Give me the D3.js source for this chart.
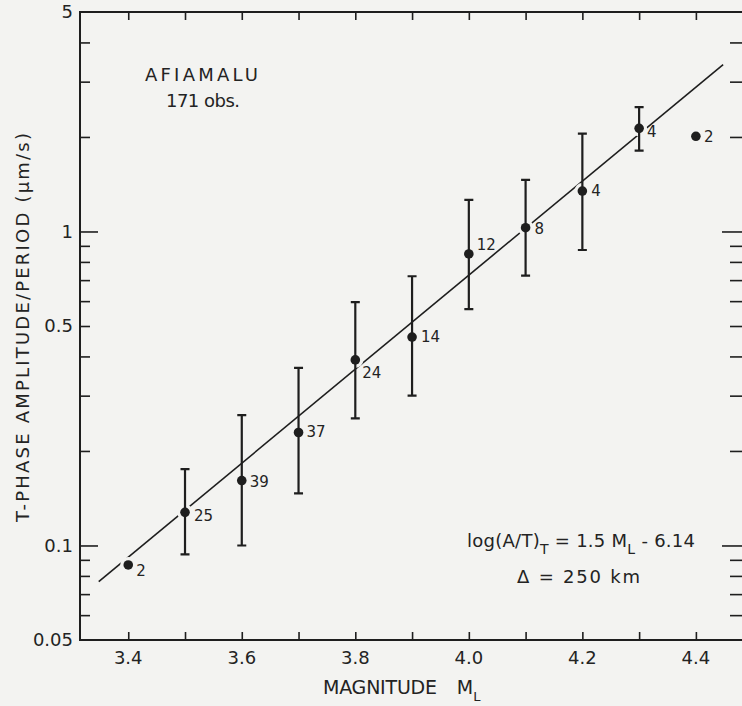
<!DOCTYPE html>
<html>
<head>
<meta charset="utf-8">
<script src="https://cdn.jsdelivr.net/npm/d3@7"></script>
<style>
  html, body { margin: 0; padding: 0; background: #f3f3f1; }
  svg { display: block; }
  text { font-family: "DejaVu Sans", sans-serif; fill: #232323; }
</style>
</head>
<body>
<svg id="chart" width="742" height="706"></svg>
<script>
// ---------- data ----------
const magnitudes = [3.4, 3.5, 3.6, 3.7, 3.8, 3.9, 4.0, 4.1, 4.2, 4.3, 4.4];
const amplitudes = [0.0867, 0.1275, 0.161, 0.229, 0.390, 0.461, 0.848, 1.028, 1.345, 2.13, 2.01];
const errLow     = [null, 0.0937, 0.100, 0.1466, 0.254, 0.300, 0.566, 0.723, 0.873, 1.81, null];
const errHigh    = [null, 0.175, 0.260, 0.368, 0.596, 0.720, 1.26, 1.46, 2.05, 2.49, null];
const counts     = [2, 25, 39, 37, 24, 14, 12, 8, 4, 4, 2];
const fitMag     = [3.348, 4.448];
const fitAmp     = [0.0767, 3.40];
const xTickValues = [3.4, 3.6, 3.8, 4.0, 4.2, 4.4];
const xTickLabels = ["3.4", "3.6", "3.8", "4.0", "4.2", "4.4"];
const xMinorTicks = [3.4, 3.5, 3.6, 3.7, 3.8, 3.9, 4.0, 4.1, 4.2, 4.3, 4.4];
const yTickValues = [5, 1, 0.5, 0.1, 0.05];
const yTickLabels = ["5", "1", "0.5", "0.1", "0.05"];
const yMinorTicks = [0.06, 0.07, 0.08, 0.09, 0.2, 0.3, 0.4, 0.5, 0.6, 0.7, 0.8, 0.9, 2, 3, 4];
const yMajorTicks = [0.1, 1];

// ---------- layout ----------
const labelOffsets = [[8, 11], [9, 9], [8, 6], [8, 5], [7, 18], [9, 5], [8, -4], [9, 6], [9, 5], [8, 9], [8, 6]];
const pLeft = 80, pRight = 743, pTop = 12, pBottom = 640;
const ink = "#1e1e1e", paper = "#f3f3f1";

const svg = d3.select("#chart");
svg.append("rect").attr("width", 742).attr("height", 706).attr("fill", paper);

const x = d3.scaleLinear().domain([3.315, 4.483]).range([pLeft, pRight]);
const y = d3.scaleLog().domain([0.05, 5]).range([pBottom, pTop]);

const pts = magnitudes.map((m, i) => ({
  m, v: amplitudes[i], lo: errLow[i], hi: errHigh[i], n: counts[i], off: labelOffsets[i]
}));

// frame
const g = svg.append("g");
g.append("path")
  .attr("d", `M${pRight},${pTop}H${pLeft}V${pBottom}H${pRight}`)
  .attr("fill", "none").attr("stroke", ink).attr("stroke-width", 2);

// axes (ticks drawn through d3 axes)
function styleAxis(sel) {
  sel.select(".domain").remove();
  sel.selectAll(".tick line").attr("stroke", ink).attr("stroke-width", 1.6);
  sel.selectAll(".tick text").remove();
}
g.append("g").attr("transform", `translate(0,${pBottom})`)
  .call(d3.axisTop(x).tickValues(xMinorTicks).tickSize(8)).call(styleAxis);
g.append("g").attr("transform", `translate(0,${pTop})`)
  .call(d3.axisBottom(x).tickValues(xMinorTicks).tickSize(8)).call(styleAxis);
g.append("g").attr("transform", `translate(${pLeft},0)`)
  .call(d3.axisRight(y).tickValues(yMinorTicks).tickSize(10)).call(styleAxis);
g.append("g").attr("transform", `translate(${pLeft},0)`)
  .call(d3.axisRight(y).tickValues(yMajorTicks).tickSize(18)).call(styleAxis);
g.append("g").attr("transform", `translate(${pRight - 1},0)`)
  .call(d3.axisLeft(y).tickValues(yMinorTicks).tickSize(12)).call(styleAxis);
g.append("g").attr("transform", `translate(${pRight - 1},0)`)
  .call(d3.axisLeft(y).tickValues(yMajorTicks).tickSize(20)).call(styleAxis);

// tick labels
g.selectAll(".xl").data(xTickValues).join("text")
  .attr("x", d => x(d)).attr("y", 664)
  .attr("text-anchor", "middle").attr("font-size", 18)
  .text((d, i) => xTickLabels[i]);
g.selectAll(".yl").data(yTickValues).join("text")
  .attr("x", 73).attr("y", d => y(d)).attr("dy", "0.36em")
  .attr("text-anchor", "end").attr("font-size", 18)
  .text((d, i) => yTickLabels[i]);

// fit line
const line = d3.line().x(d => x(d[0])).y(d => y(d[1]));
g.append("path").datum(fitMag.map((m, i) => [m, fitAmp[i]]))
  .attr("d", line).attr("fill", "none").attr("stroke", ink).attr("stroke-width", 1.6);

// halos (gaps in the line around the dots)
g.selectAll(".halo").data(pts).join("circle")
  .attr("cx", d => x(d.m)).attr("cy", d => y(d.v)).attr("r", 8).attr("fill", paper);

// error bars
const eb = pts.filter(d => d.lo != null);
g.selectAll(".eb").data(eb).join("path")
  .attr("d", d => {
    const cx = x(d.m), y0 = y(d.lo), y1 = y(d.hi);
    return `M${cx},${y0}V${y1}M${cx - 4.5},${y1}H${cx + 4.5}M${cx - 4.5},${y0}H${cx + 4.5}`;
  })
  .attr("fill", "none").attr("stroke", ink).attr("stroke-width", 2.2);

// dots
g.selectAll(".dot").data(pts).join("circle")
  .attr("cx", d => x(d.m)).attr("cy", d => y(d.v)).attr("r", 4.8).attr("fill", ink);

// count labels
g.selectAll(".cnt").data(pts).join("text")
  .attr("x", d => x(d.m) + d.off[0]).attr("y", d => y(d.v) + d.off[1])
  .attr("font-size", 15).attr("fill", "#333")
  .text(d => d.n);

// annotations
g.append("text").attr("x", 145).attr("y", 81).attr("font-size", 18)
  .attr("textLength", 113).attr("lengthAdjust", "spacing").text("AFIAMALU");
g.append("text").attr("x", 166).attr("y", 107).attr("font-size", 18)
  .attr("textLength", 74).attr("lengthAdjust", "spacing").text("171 obs.");

const f = g.append("text").attr("x", 467).attr("y", 547).attr("font-size", 18)
  .attr("textLength", 228).attr("lengthAdjust", "spacing");
f.append("tspan").text("log(A/T)");
f.append("tspan").attr("font-size", 14).attr("dy", 7).text("T");
f.append("tspan").attr("dy", -7).text(" = 1.5 M");
f.append("tspan").attr("font-size", 14).attr("dy", 7).text("L");
f.append("tspan").attr("dy", -7).text(" - 6.14");

g.append("text").attr("x", 517).attr("y", 583).attr("font-size", 18)
  .attr("textLength", 123).attr("lengthAdjust", "spacing")
  .text("\u0394  =  250 km");

// axis titles
const xt = g.append("text").attr("x", 323).attr("y", 694).attr("font-size", 19);
xt.append("tspan").attr("textLength", 114).attr("lengthAdjust", "spacing").text("MAGNITUDE");
xt.append("tspan").attr("dx", 20).text("M");
xt.append("tspan").attr("font-size", 13).attr("dy", 7).text("L");

g.append("text")
  .attr("transform", "translate(29,327.5) rotate(-90)")
  .attr("text-anchor", "middle").attr("font-size", 18)
  .attr("textLength", 389).attr("lengthAdjust", "spacing")
  .text("T-PHASE AMPLITUDE/PERIOD  (\u03BCm/s)");
</script>
</body>
</html>
